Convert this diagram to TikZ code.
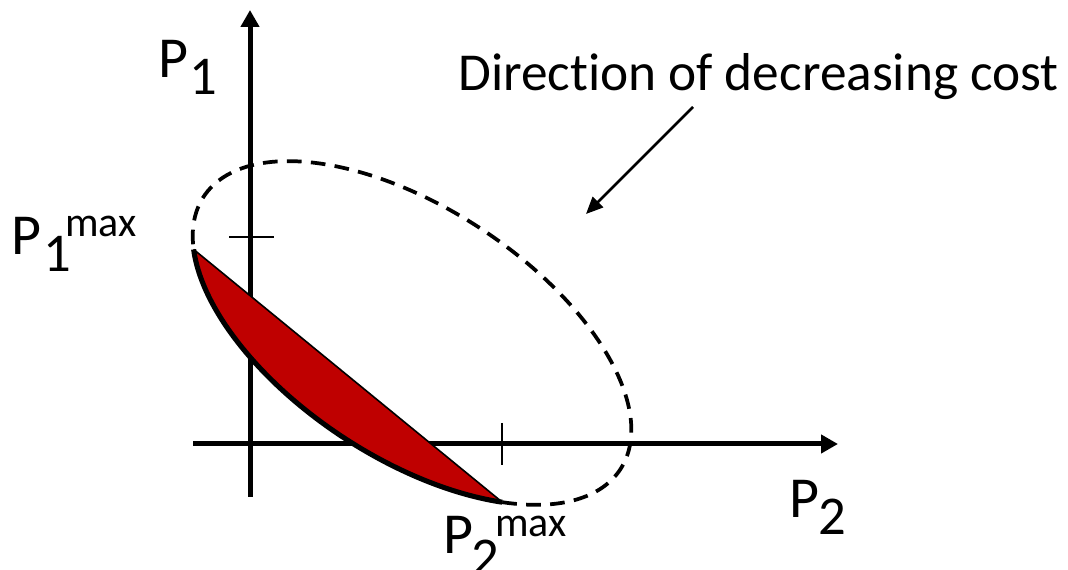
\documentclass[tikz,border=0pt]{standalone}
\usepackage{fontspec}
\setmainfont{Carlito}[Ligatures={NoCommon}]
\usetikzlibrary{arrows.meta}
\begin{document}
\begin{tikzpicture}[x=0.75pt,y=0.75pt,
  lbl/.style={anchor=base west, inner sep=0pt, font=\fontsize{43.5pt}{50pt}\selectfont},
  sublbl/.style={anchor=base west, inner sep=0pt, font=\fontsize{41pt}{48pt}\selectfont},
  suplbl/.style={anchor=base west, inner sep=0pt, font=\fontsize{31.5pt}{36pt}\selectfont},
  note/.style={anchor=base west, inner sep=0pt, font=\fontsize{40pt}{46pt}\selectfont},
  axisline/.style={line width=3.75pt, -{Triangle[length=12.75pt,width=13.5pt]}},
  tickline/.style={line width=1.5pt},
  feasible/.style={fill=red!75!black},
  boundary/.style={line width=3.8pt},
  chord/.style={line width=1.2pt},
  costcurve/.style={line width=2.8pt, dash pattern=on 11pt off 7pt},
  dirarrow/.style={line width=1.9pt, -{Triangle[length=12.75pt,width=11pt]}}
]
\useasboundingbox (0,0) rectangle (1068,570);
% axes
\coordinate (vb) at (250,73);
\coordinate (vt) at (250,560);
\coordinate (hl) at (193,126);
\coordinate (hr) at (838,126);
\draw[axisline] (vb) -- (vt);
\draw[axisline] (hl) -- (hr);
% ticks
\coordinate (t1a) at (229,333);
\coordinate (t1b) at (274,333);
\coordinate (t2a) at (502,147);
\coordinate (t2b) at (502,105);
\draw[tickline] (t1a) -- (t1b);
\draw[tickline] (t2a) -- (t2b);
% ellipse and feasible region
\begin{scope}[shift={(412,237)}, rotate=-33.2]
  \coordinate (A) at (203.4:249 and 125);
  \coordinate (B) at (312.5:249 and 125);
  \fill[feasible] (A) arc[start angle=203.4, end angle=312.5, x radius=249, y radius=125] -- cycle;
  \draw[boundary] (A) arc[start angle=203.4, end angle=312.5, x radius=249, y radius=125];
  \draw[chord] (A) -- (B);
  \draw[costcurve] (B) arc[start angle=312.5, end angle=563.4, x radius=249, y radius=125];
\end{scope}
% direction arrow
\coordinate (ds) at (693,463);
\coordinate (de) at (586,356);
\draw[dirarrow] (ds) -- (de);
% labels
\node[note] (dir) at (458,479) {Direction of decreasing cost};
\node[lbl] (p1) at (158,492) {P};
\node[sublbl] (p1s) at (189,475) {1};
\node[lbl] (p1m) at (11,315) {P};
\node[sublbl] (p1ms) at (43,298) {1};
\node[suplbl] (p1mx) at (65,333) {max};
\node[lbl] (p2) at (789,52) {P};
\node[sublbl] (p2s) at (818,35) {2};
\node[lbl] (p2m) at (443,16) {P};
\node[sublbl] (p2ms) at (471,-6) {2};
\node[suplbl] (p2mx) at (495,33) {max};
\end{tikzpicture}
\end{document}
